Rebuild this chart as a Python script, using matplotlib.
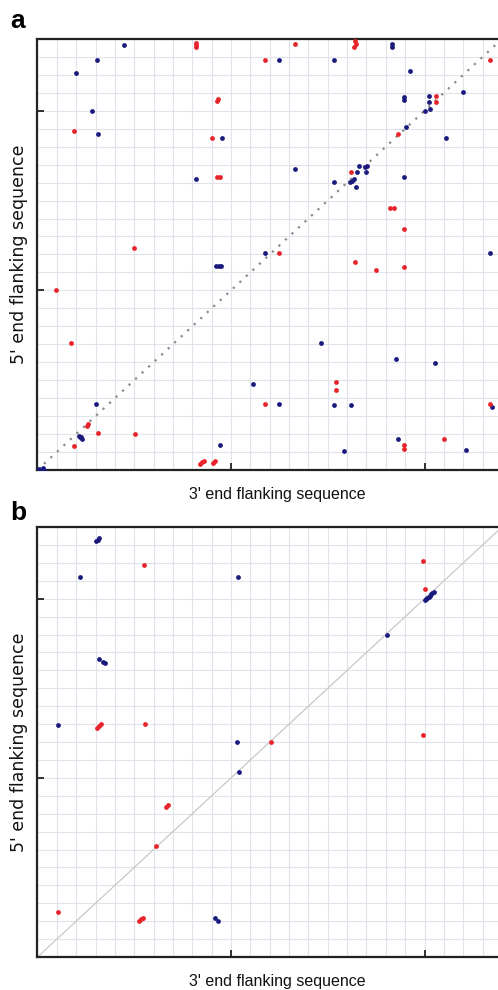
import matplotlib
matplotlib.use('Agg')
import matplotlib.pyplot as plt
import numpy as np

# panel a - matches (x: 3' end position, y: 5' end position)
a_blue_x = [44.9, 30.6, 19.9, 28.2, 31.1, 95.3, 81.8, 183.0, 183.0, 124.8, 153.2, 192.5,
            189.4, 189.4, 202.3, 202.3, 203.0, 200.4, 219.9, 190.6, 210.9, 132.9,
            166.0, 165.0, 169.1, 170.3, 169.8, 163.6, 162.7, 161.3, 153.2, 164.6, 189.4,
            92.2, 93.6, 94.7, 30.4, 21.4, 22.5, 23.2, 22.0, 94.5, 0.9, 3.0, 3.4,
            117.4, 234.0, 146.7, 185.1, 205.6, 111.4, 124.8, 153.2, 161.9, 234.7,
            186.2, 158.2, 221.6]
a_blue_y = [236.8, 228.0, 220.8, 199.8, 186.8, 184.6, 161.9, 237.2, 235.5, 228.2, 228.0, 222.3,
            207.6, 206.1, 208.1, 204.8, 200.9, 200.0, 210.4, 190.9, 184.8, 167.7,
            169.5, 165.8, 168.6, 169.5, 165.7, 162.2, 161.0, 160.1, 160.6, 157.3, 163.1,
            113.3, 113.3, 113.3, 36.6, 19.1, 18.6, 17.4, 18.2, 14.1, 0.7, 1.1, 0.2,
            120.7, 120.7, 70.8, 61.8, 59.6, 48.1, 36.6, 36.4, 36.2, 34.9,
            17.3, 10.6, 11.0]
a_red_x = [81.9, 81.9, 81.9, 93.4, 92.6, 18.9, 90.3, 92.6, 94.3, 49.9, 133.2,
           163.9, 164.6, 163.6, 117.4, 234.0, 205.8, 205.8, 186.2, 162.0, 182.0, 184.1,
           189.4, 9.6, 17.3, 25.9, 25.4, 31.1, 50.4, 18.9, 84.0, 85.0, 86.0, 90.9, 91.7,
           124.8, 163.9, 174.9, 189.4, 154.1, 154.4, 117.6, 233.8, 189.4, 189.4, 210.2]
a_red_y = [237.9, 236.8, 235.7, 206.7, 205.6, 188.9, 184.6, 162.9, 162.9, 123.8, 236.9,
           238.6, 237.3, 235.4, 228.2, 228.2, 208.2, 204.8, 186.8, 166.0, 145.8, 145.8,
           134.0, 100.3, 70.6, 25.5, 24.7, 20.8, 19.9, 13.4, 3.3, 4.5, 5.0, 4.1, 5.0,
           120.7, 115.7, 111.6, 113.1, 48.9, 44.7, 36.6, 36.6, 13.7, 11.5, 17.3]

# panel b
b_blue_x = [30.4, 31.1, 31.8, 22.0, 103.6, 31.9, 33.7, 35.0, 10.6, 102.9,
            200.1, 200.8, 201.4, 202.1, 202.8, 203.4, 204.1, 204.8,
            180.5, 104.3, 91.7, 93.4]
b_blue_y = [232.0, 233.0, 234.0, 212.1, 212.1, 166.6, 164.9, 164.0, 129.6, 119.9,
            199.3, 199.9, 200.6, 201.2, 201.8, 202.4, 203.1, 203.7,
            179.8, 103.2, 21.6, 20.2]
b_red_x = [55.0, 30.6, 31.6, 32.7, 55.4, 199.1, 200.4, 120.7, 199.1, 66.6, 67.6,
           61.1, 10.7, 52.3, 53.3, 54.4]
b_red_y = [218.8, 127.7, 128.9, 129.8, 130.0, 221.0, 205.6, 120.2, 123.8, 83.8, 84.6,
           61.7, 25.2, 20.1, 21.0, 21.9]

blue = '#1b1b7d'
red = '#e8242b'

fig = plt.figure(figsize=(4.98, 9.9), dpi=100)
ax_a = fig.add_axes([0.0753, 0.5253, 0.9637, 0.4354])
ax_b = fig.add_axes([0.0753, 0.0333, 0.9637, 0.4343])

def style(ax):
    ax.set_xlim(0, 248)
    ax.set_ylim(0, 240)
    ax.set_xticks(np.arange(0, 250, 10), minor=True)
    ax.set_yticks(np.arange(0, 250, 10), minor=True)
    ax.set_xticks([100, 200])
    ax.set_yticks([100, 200])
    ax.set_xticklabels([])
    ax.set_yticklabels([])
    ax.grid(True, which='both', color='#e2e2ea', lw=0.8)
    ax.set_axisbelow(True)
    ax.tick_params(which='major', direction='in', length=5, width=1.3,
                   top=False, right=False, color='#222222')
    ax.tick_params(which='minor', length=0)
    ax.spines['right'].set_visible(False)
    for s in ['top', 'left', 'bottom']:
        ax.spines[s].set_linewidth(1.6)
        ax.spines[s].set_color('#222222')
    ax.set_xlabel("3' end flanking sequence", fontsize=11.5, labelpad=9,
                  family='Liberation Sans', color='#111111')
    ax.set_ylabel("5' end flanking sequence", fontsize=12.5, labelpad=3,
                  family='DejaVu Sans', color='#111111')

style(ax_a)
ax_a.plot([0, 248], [0, 248], color='#8a8a8a', lw=1.6, ls=(0, (1, 3)), zorder=2)
ax_a.scatter(a_blue_x, a_blue_y, s=12, color=blue, zorder=3, linewidths=0)
ax_a.scatter(a_red_x, a_red_y, s=12, color=red, zorder=3, linewidths=0)

style(ax_b)
ax_b.plot([0, 248], [0, 248], color='#c8c8c8', lw=0.9, zorder=2)
ax_b.scatter(b_blue_x, b_blue_y, s=12, color=blue, zorder=3, linewidths=0)
ax_b.scatter(b_red_x, b_red_y, s=12, color=red, zorder=3, linewidths=0)

fig.text(0.02, 1 - 28 / 990, 'a', fontsize=19, fontweight='bold',
         family='Liberation Sans', va='baseline')
fig.text(0.02, 1 - 520 / 990, 'b', fontsize=19, fontweight='bold',
         family='Liberation Sans', va='baseline')

fig.savefig('out.png', dpi=100)
